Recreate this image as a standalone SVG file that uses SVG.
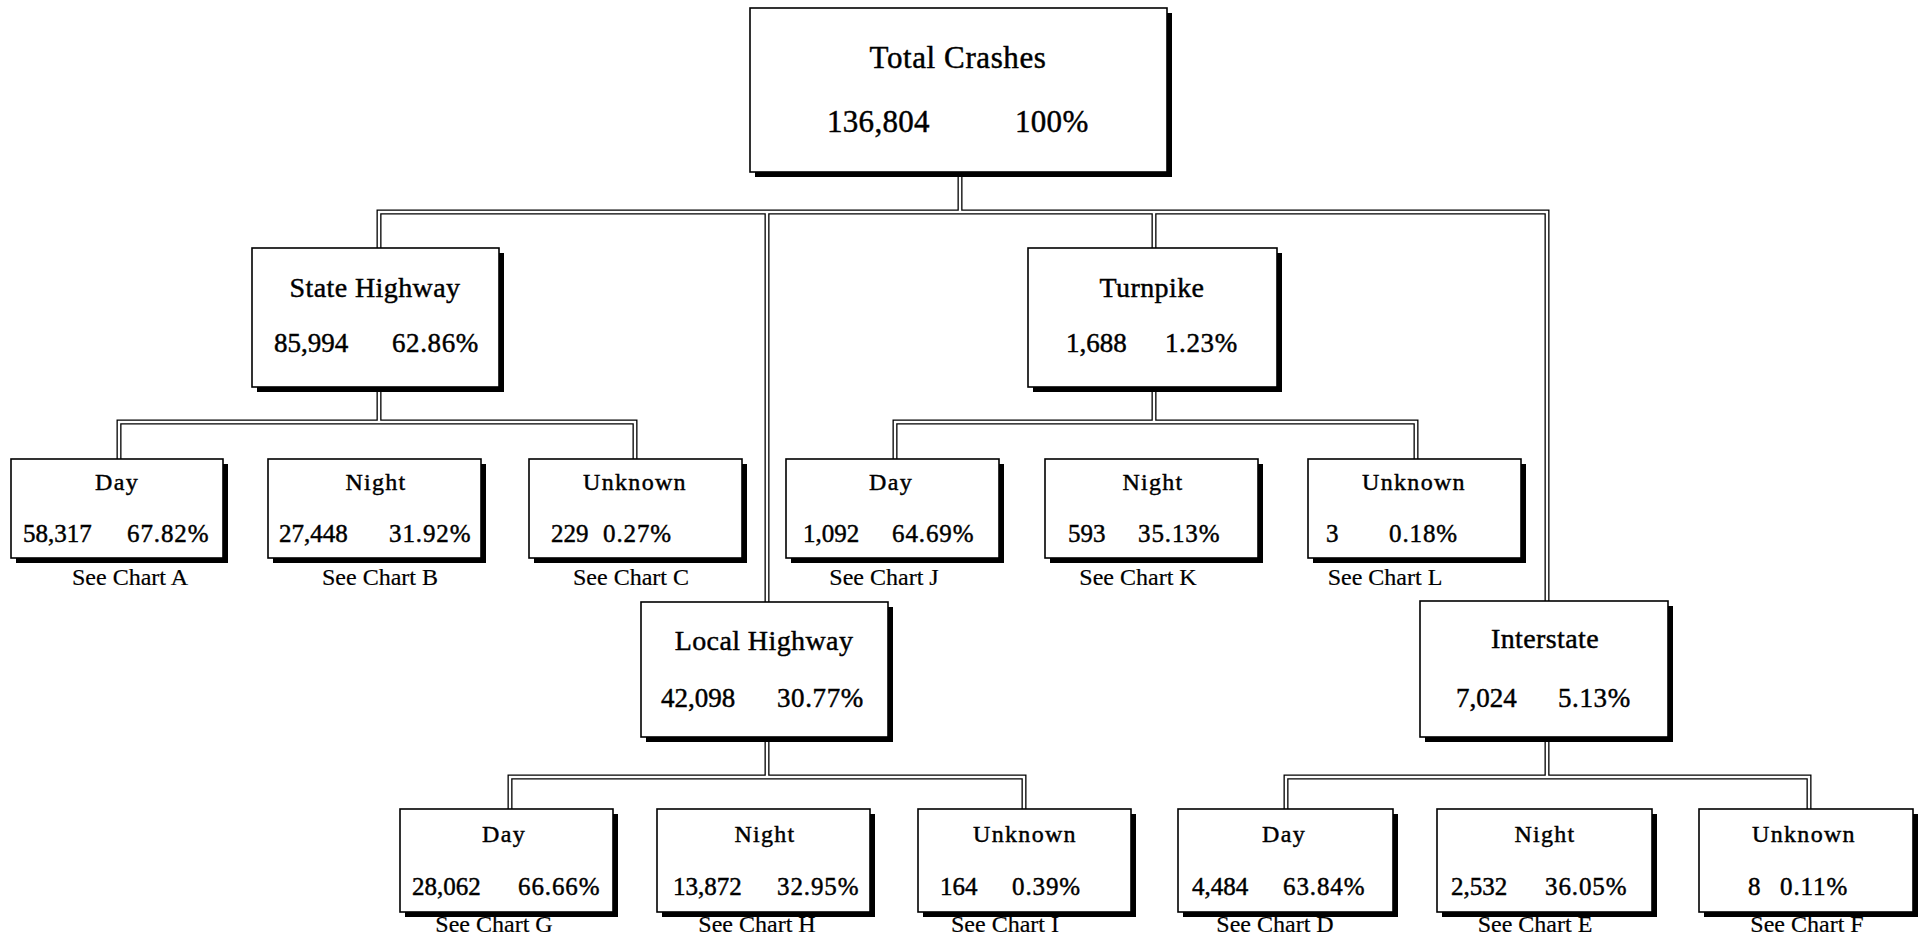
<svg xmlns="http://www.w3.org/2000/svg" width="1922" height="945" viewBox="0 0 1922 945">
<style>
text{font-family:"Liberation Serif","Times New Roman",serif;fill:#000;stroke:#000;stroke-width:0.45px}
.box{fill:#fff;stroke:#000;stroke-width:1.6}
.sh{fill:#000}
.t0{font-size:31px;text-anchor:middle;letter-spacing:0.6px}
.n0{font-size:31px;letter-spacing:0.3px}
.t1{font-size:28px;text-anchor:middle;letter-spacing:0.4px}
.n1{font-size:27px}
.p1{font-size:27px;letter-spacing:0.6px}
.t2{font-size:24px;text-anchor:middle;letter-spacing:1.3px}
.n2{font-size:25px}
.p2{font-size:25px;letter-spacing:0.9px}
.see{font-size:24px;text-anchor:middle;stroke-width:0.2px}
.outer{fill:none;stroke:#000;stroke-width:5}
.inner{fill:none;stroke:#fff;stroke-width:2.4}
</style>
<defs>
<path id="wires" d="M960,172V212 M379,248V212H1547V601 M767,212V602 M1154,212V248 M379,387V422 M119,459V422H635V459 M1154,387V422 M895,459V422H1416V459 M767,737V777 M510,809V777H1024V809 M1547,737V777 M1286,809V777H1809V809"/>
</defs>
<rect width="1922" height="945" fill="#fff"/>
<g id="connectors">
<use href="#wires" class="outer"/>
<use href="#wires" class="inner"/>
</g>
<g id="total">
<rect class="sh" x="755" y="13" width="417" height="164"/>
<rect class="box" x="750" y="8" width="417" height="164"/>
<text class="t0" x="958" y="68">Total Crashes</text>
<text class="n0" x="827" y="132">136,804</text>
<text class="n0" x="1015" y="132">100%</text>
</g>
<g id="state-highway">
<rect class="sh" x="257" y="253" width="247" height="139"/>
<rect class="box" x="252" y="248" width="247" height="139"/>
<text class="t1" x="375" y="297">State Highway</text>
<text class="n1" x="274" y="352">85,994</text>
<text class="p1" x="392" y="352">62.86%</text>
</g>
<g id="turnpike">
<rect class="sh" x="1033" y="253" width="249" height="139"/>
<rect class="box" x="1028" y="248" width="249" height="139"/>
<text class="t1" x="1152" y="297">Turnpike</text>
<text class="n1" x="1066" y="352">1,688</text>
<text class="p1" x="1165" y="352">1.23%</text>
</g>
<g id="local-highway">
<rect class="sh" x="646" y="607" width="247" height="135"/>
<rect class="box" x="641" y="602" width="247" height="135"/>
<text class="t1" x="764" y="650">Local Highway</text>
<text class="n1" x="661" y="707">42,098</text>
<text class="p1" x="777" y="707">30.77%</text>
</g>
<g id="interstate">
<rect class="sh" x="1425" y="606" width="248" height="136"/>
<rect class="box" x="1420" y="601" width="248" height="136"/>
<text class="t1" x="1545" y="648">Interstate</text>
<text class="n1" x="1456" y="707">7,024</text>
<text class="p1" x="1558" y="707">5.13%</text>
</g>
<g id="state-day">
<rect class="sh" x="16" y="464" width="212" height="99"/>
<rect class="box" x="11" y="459" width="212" height="99"/>
<text class="t2" x="117" y="490">Day</text>
<text class="n2" x="23" y="542">58,317</text>
<text class="p2" x="127" y="542">67.82%</text>
<text class="see" x="130" y="585">See Chart A</text>
</g>
<g id="state-night">
<rect class="sh" x="273" y="464" width="213" height="99"/>
<rect class="box" x="268" y="459" width="213" height="99"/>
<text class="t2" x="376" y="490">Night</text>
<text class="n2" x="279" y="542">27,448</text>
<text class="p2" x="389" y="542">31.92%</text>
<text class="see" x="380" y="585">See Chart B</text>
</g>
<g id="state-unknown">
<rect class="sh" x="534" y="464" width="213" height="99"/>
<rect class="box" x="529" y="459" width="213" height="99"/>
<text class="t2" x="635" y="490">Unknown</text>
<text class="n2" x="551" y="542">229</text>
<text class="p2" x="603" y="542">0.27%</text>
<text class="see" x="631" y="585">See Chart C</text>
</g>
<g id="turnpike-day">
<rect class="sh" x="791" y="464" width="213" height="99"/>
<rect class="box" x="786" y="459" width="213" height="99"/>
<text class="t2" x="891" y="490">Day</text>
<text class="n2" x="803" y="542">1,092</text>
<text class="p2" x="892" y="542">64.69%</text>
<text class="see" x="884" y="585">See Chart J</text>
</g>
<g id="turnpike-night">
<rect class="sh" x="1050" y="464" width="213" height="99"/>
<rect class="box" x="1045" y="459" width="213" height="99"/>
<text class="t2" x="1153" y="490">Night</text>
<text class="n2" x="1068" y="542">593</text>
<text class="p2" x="1138" y="542">35.13%</text>
<text class="see" x="1138" y="585">See Chart K</text>
</g>
<g id="turnpike-unknown">
<rect class="sh" x="1313" y="464" width="213" height="99"/>
<rect class="box" x="1308" y="459" width="213" height="99"/>
<text class="t2" x="1414" y="490">Unknown</text>
<text class="n2" x="1326" y="542">3</text>
<text class="p2" x="1389" y="542">0.18%</text>
<text class="see" x="1385" y="585">See Chart L</text>
</g>
<g id="local-day">
<rect class="sh" x="405" y="814" width="213" height="103"/>
<rect class="box" x="400" y="809" width="213" height="103"/>
<text class="t2" x="504" y="842">Day</text>
<text class="n2" x="412" y="895">28,062</text>
<text class="p2" x="518" y="895">66.66%</text>
<text class="see" x="494" y="932">See Chart G</text>
</g>
<g id="local-night">
<rect class="sh" x="662" y="814" width="213" height="103"/>
<rect class="box" x="657" y="809" width="213" height="103"/>
<text class="t2" x="765" y="842">Night</text>
<text class="n2" x="673" y="895">13,872</text>
<text class="p2" x="777" y="895">32.95%</text>
<text class="see" x="757" y="932">See Chart H</text>
</g>
<g id="local-unknown">
<rect class="sh" x="923" y="814" width="213" height="103"/>
<rect class="box" x="918" y="809" width="213" height="103"/>
<text class="t2" x="1025" y="842">Unknown</text>
<text class="n2" x="940" y="895">164</text>
<text class="p2" x="1012" y="895">0.39%</text>
<text class="see" x="1005" y="932">See Chart I</text>
</g>
<g id="interstate-day">
<rect class="sh" x="1183" y="814" width="215" height="103"/>
<rect class="box" x="1178" y="809" width="215" height="103"/>
<text class="t2" x="1284" y="842">Day</text>
<text class="n2" x="1192" y="895">4,484</text>
<text class="p2" x="1283" y="895">63.84%</text>
<text class="see" x="1275" y="932">See Chart D</text>
</g>
<g id="interstate-night">
<rect class="sh" x="1442" y="814" width="215" height="103"/>
<rect class="box" x="1437" y="809" width="215" height="103"/>
<text class="t2" x="1545" y="842">Night</text>
<text class="n2" x="1451" y="895">2,532</text>
<text class="p2" x="1545" y="895">36.05%</text>
<text class="see" x="1535" y="932">See Chart E</text>
</g>
<g id="interstate-unknown">
<rect class="sh" x="1704" y="814" width="214" height="103"/>
<rect class="box" x="1699" y="809" width="214" height="103"/>
<text class="t2" x="1804" y="842">Unknown</text>
<text class="n2" x="1748" y="895">8</text>
<text class="p2" x="1780" y="895">0.11%</text>
<text class="see" x="1807" y="932">See Chart F</text>
</g>
</svg>
